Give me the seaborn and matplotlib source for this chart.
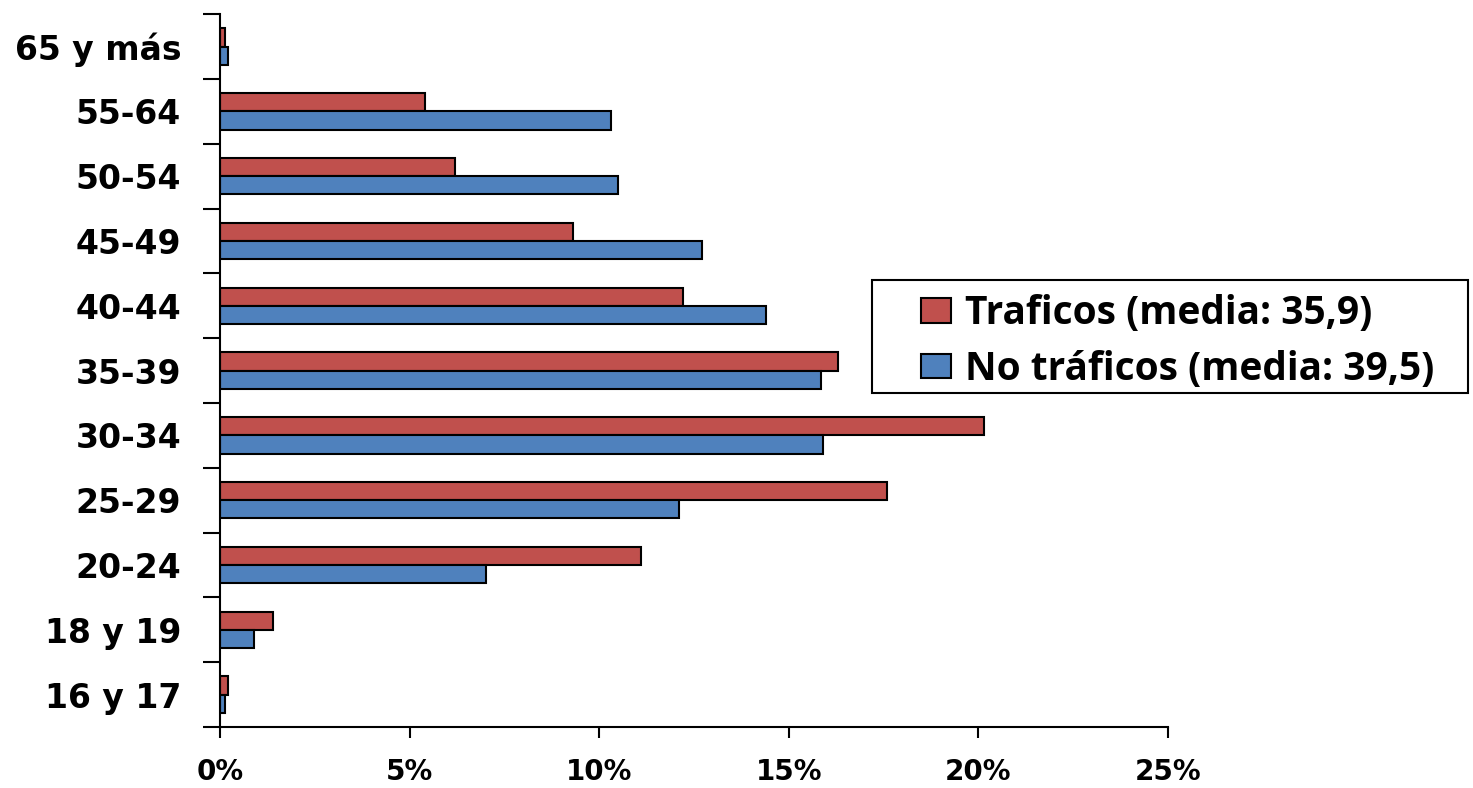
import pandas as pd
import matplotlib.pyplot as plt
import matplotlib.ticker as mticker
import matplotlib.patches as mpatches
import numpy as np
import seaborn as sns

# age groups, top to bottom as drawn
grupos = ['65 y más', '55-64', '50-54', '45-49', '40-44', '35-39',
          '30-34', '25-29', '20-24', '18 y 19', '16 y 17']
traficos = [0.13, 5.4, 6.2, 9.3, 12.2, 16.3, 20.15, 17.6, 11.1, 1.4, 0.2]
no_traficos = [0.2, 10.3, 10.5, 12.7, 14.4, 15.85, 15.9, 12.1, 7.0, 0.9, 0.13]
series = ['Traficos (media: 35,9)', 'No tráficos (media: 39,5)']
colores = ['#C0504D', '#4F81BD']
xticks = [0, 5, 10, 15, 20, 25]

df = pd.DataFrame({'grupo': grupos * 2,
                   'valor': traficos + no_traficos,
                   'serie': [series[0]] * len(grupos) + [series[1]] * len(grupos)})

sns.set_style('white')
plt.rcParams['font.family'] = ['DejaVu Sans']
plt.rcParams['text.color'] = 'black'
plt.rcParams['xtick.color'] = 'black'
plt.rcParams['ytick.color'] = 'black'

fig = plt.figure(figsize=(14.73, 7.88), dpi=100)
ax = fig.add_axes([0.1494, 0.0774, 0.6436, 0.9046])

sns.barplot(data=df, x='valor', y='grupo', hue='serie', order=grupos,
            hue_order=series, palette=colores, orient='h', width=0.56,
            edgecolor='black', linewidth=1.5, saturation=1, ax=ax)

ax.set_xlim(0, 25)
ax.set_ylim(len(grupos) - 0.5, -0.5)
ax.set_xticks(xticks)
ax.xaxis.set_major_formatter(mticker.FuncFormatter(lambda v, p: f'{v:.0f}%'))
ax.set_xlabel('')
ax.set_ylabel('')

# y ticks at category boundaries, labels at centres
ax.set_yticks(np.arange(len(grupos)))
ax.set_yticklabels(grupos)
ax.set_yticks(np.arange(len(grupos) + 1) - 0.5, minor=True)
ax.tick_params(axis='y', which='major', length=0, pad=28, labelsize=23.8)
ax.tick_params(axis='y', which='minor', length=12, width=1.5, color='black', direction='out', left=True)
ax.tick_params(axis='x', length=8, width=1.5, color='black', direction='out', bottom=True,
               pad=14, labelsize=20)
for lab in ax.get_xticklabels() + ax.get_yticklabels():
    lab.set_fontweight('bold')

sns.despine(ax=ax)
for s in ['left', 'bottom']:
    ax.spines[s].set_color('black')
    ax.spines[s].set_linewidth(1.5)

# legend box drawn separately (wide left margin as in original)
caja = mpatches.Rectangle((0.592, 0.5013), 0.4046, 0.1434, transform=fig.transFigure,
                          facecolor='white', edgecolor='black', linewidth=1.5,
                          zorder=5, clip_on=False)
ax.add_patch(caja)
leg = ax.legend(loc='center left', bbox_to_anchor=(0.6255, 0.5665),
                bbox_transform=fig.transFigure, frameon=False,
                prop={'family': 'Open Sans', 'weight': 'bold', 'size': 28},
                handlelength=0.75, handleheight=0.6, borderpad=0, labelspacing=0.42,
                handletextpad=0.38, borderaxespad=0)
leg.set_zorder(6)
for h in leg.legend_handles:
    h.set_edgecolor('black')
    h.set_linewidth(1.5)

fig.savefig('out.png', dpi=100)
